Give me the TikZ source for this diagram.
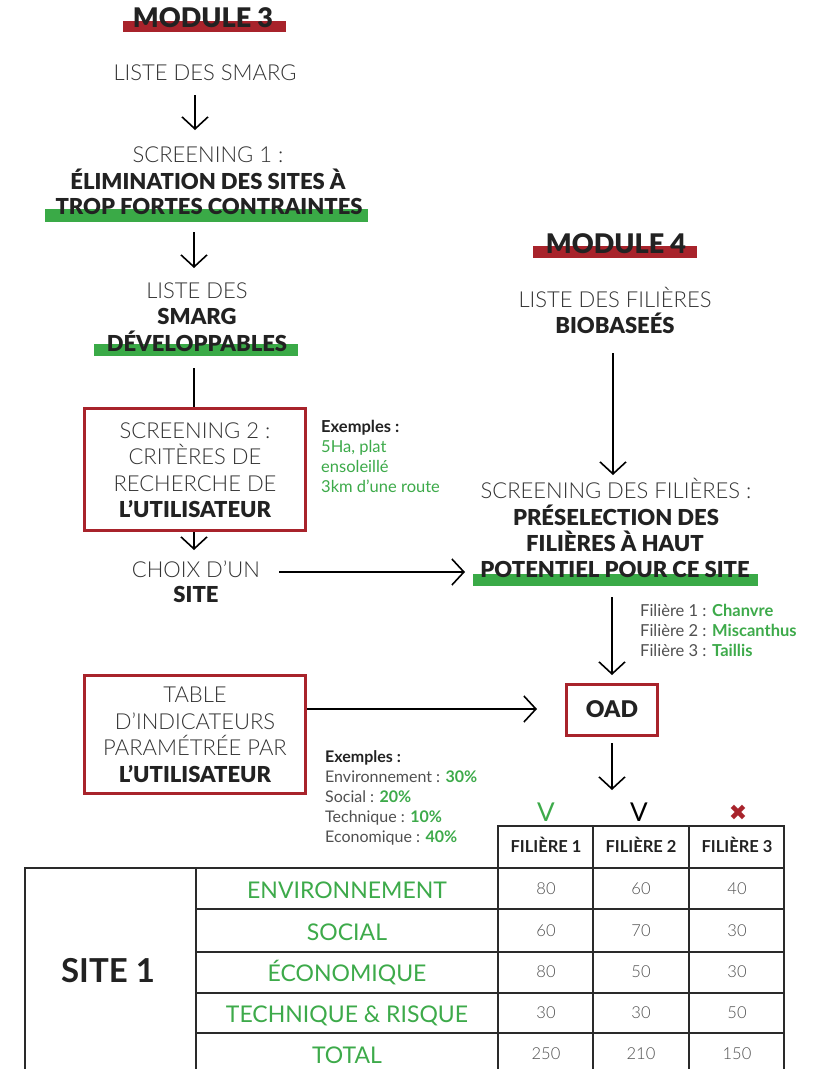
\documentclass[tikz,border=0pt]{standalone}
\usepackage{fontspec}
\setmainfont{Lato}
\IfFontExistsTF{Lato Light}{\newfontfamily\lightf{Lato Light}}{\newfontfamily\lightf{Lato}}
\IfFontExistsTF{Lato Black}{\newfontfamily\blackf{Lato Black}}{\let\blackf\bfseries}
\newfontfamily\symf{DejaVu Sans}
\usetikzlibrary{arrows.meta,calc}
\definecolor{txtg}{HTML}{333333}
\definecolor{txtb}{HTML}{222222}
\definecolor{txtl}{HTML}{505050}
\definecolor{grn}{HTML}{3DAA4A}
\definecolor{grnbar}{HTML}{3AAA47}
\definecolor{rd}{HTML}{A8232B}
\definecolor{tline}{HTML}{2A2A2A}
\newcommand\fsz[1]{\fontsize{#1}{#1}\selectfont}
\tikzset{
  lt/.style={font=\lightf\fsz{22}, text=txtg, inner sep=0, text height=15.8pt, text depth=0pt},
  bd/.style={font=\blackf\fsz{22}, text=txtb, inner sep=0, text height=15.8pt, text depth=0pt},
  modl/.style={font=\blackf\fsz{27}, text=txtb, inner sep=0, text height=19.3pt, text depth=0pt},
  exl/.style={font=\fsz{16.5}, anchor=west, inner sep=0, text height=11.8pt, text depth=0pt},
  exw/.style={font=\fsz{16}, anchor=west, inner sep=0, text height=11.5pt, text depth=0pt},
  redbox/.style={draw=rd, line width=3pt, fill=none, inner sep=0},
  arr/.style={draw=black, line width=1.6pt, -{Straight Barb[length=12pt,width=26pt,line width=1.6pt]}},
  plainline/.style={draw=black, line width=1.6pt},
  tab/.style={draw=tline, line width=1.6pt},
  lab/.style={font=\fsz{23}, text=grn, inner sep=0, text height=16.5pt, text depth=0pt},
  num/.style={font=\lightf\fsz{16.5}, text=txtl, inner sep=0, text height=11.8pt, text depth=0pt},
  hdr/.style={font=\bfseries\fsz{16.5}, text=txtb, inner sep=0, text height=11.8pt, text depth=0pt},
}
\begin{document}
\begin{tikzpicture}[x=1pt,y=-1pt]
\useasboundingbox (0,0) rectangle (826,1069);
\fill[white] (0,0) rectangle (826,1069);
% highlight bars
\fill[rd] (123,21) rectangle (286,32);
\fill[rd] (533,246) rectangle (697,258);
\fill[grnbar] (45,209) rectangle (368,222);
\fill[grnbar] (94,344) rectangle (298,356);
\fill[grnbar] (473,574) rectangle (758,586);
% module 3 column
\node[modl] (mod3) at (203,18) {MODULE 3};
\node[lt] (liste) at (205,73) {LISTE DES SMARG};
\node[lt] (scr1a) at (208,155) {SCREENING 1 :};
\node[bd] (scr1b) at (208,182) {ÉLIMINATION DES SITES À};
\node[bd] (scr1c) at (209,207) {TROP FORTES CONTRAINTES};
\node[lt] (dev1) at (197,291) {LISTE DES};
\node[bd] (dev2) at (197,317) {SMARG};
\node[bd] (dev3) at (197,343.5) {DÉVELOPPABLES};
\node[redbox, minimum width=221pt, minimum height=122pt] (box1) at (195,469.5) {};
\node[lt] (b1a) at (195,431) {SCREENING 2 :};
\node[lt] (b1b) at (195,457) {CRITÈRES DE};
\node[lt] (b1c) at (195,484) {RECHERCHE DE};
\node[bd] (b1d) at (195,510) {L’UTILISATEUR};
\node[exl, font=\bfseries\fsz{16.5}, text=txtb] (ex1a) at (321,427) {Exemples :};
\node[exl, text=grn] (ex1b) at (321,447) {5Ha, plat};
\node[exl, text=grn] (ex1c) at (321,467) {ensoleillé};
\node[exl, text=grn] (ex1d) at (321,487) {3km d’une route};
\node[lt] (ch1) at (196,570) {CHOIX D’UN};
\node[bd] (ch2) at (196,595) {SITE};
% module 4 column
\node[modl] (mod4) at (616,243.5) {MODULE 4};
\node[lt] (fil1) at (615,300) {LISTE DES FILIÈRES};
\node[bd] (fil2) at (615,326) {BIOBASEÉS};
\node[lt] (sf1) at (616,491) {SCREENING DES FILIÈRES :};
\node[bd] (sf2) at (616,518) {PRÉSELECTION DES};
\node[bd] (sf3) at (615,544) {FILIÈRES À HAUT};
\node[bd] (sf4) at (615,570) {POTENTIEL POUR CE SITE};
\node[exl, text=txtl] (f1) at (640,611) {Filière 1 : \textcolor{grn}{\bfseries Chanvre}};
\node[exl, text=txtl] (f2) at (640,631) {Filière 2 : \textcolor{grn}{\bfseries Miscanthus}};
\node[exl, text=txtl] (f3) at (640,651) {Filière 3 : \textcolor{grn}{\bfseries Taillis}};
\node[redbox, minimum width=91pt, minimum height=51pt] (oad) at (612,710) {};
\node[font=\blackf\fsz{23}, text=txtb, inner sep=0, text height=16.5pt, text depth=0pt] (oadt) at (612,709) {OAD};
% table box
\node[redbox, minimum width=221pt, minimum height=118pt] (box2) at (195,734.5) {};
\node[lt] (b2a) at (195,695) {TABLE};
\node[lt] (b2b) at (195,722) {D’INDICATEURS};
\node[lt] (b2c) at (195,748) {PARAMÉTRÉE PAR};
\node[bd] (b2d) at (195,775) {L’UTILISATEUR};
\node[exw, font=\bfseries\fsz{16}, text=txtb] (ex2a) at (325,757) {Exemples :};
\node[exw, text=txtl] (ex2b) at (325,777) {Environnement : \textcolor{grn}{\bfseries 30\%}};
\node[exw, text=txtl] (ex2c) at (325,797) {Social : \textcolor{grn}{\bfseries 20\%}};
\node[exw, text=txtl] (ex2d) at (325,817) {Technique : \textcolor{grn}{\bfseries 10\%}};
\node[exw, text=txtl] (ex2e) at (325,837) {Economique : \textcolor{grn}{\bfseries 40\%}};
\coordinate (oadout) at (612,790);
% connectors
\draw[arr] ($(liste)+(-10,22)$) -- ($(scr1a)+(-13,-25)$);
\draw[arr] ($(scr1c)+(-15,25)$) -- ($(dev1)+(-3,-23)$);
\draw[plainline] ($(dev3)+(-3,24.5)$) -- ($(box1.north)+(-1,0)$);
\draw[arr] ($(box1.south)+(-1,0)$) -- ($(ch1)+(-2,-20)$);
\draw[arr] ($(ch1)+(83,2)$) -- ($(sf4)+(-150,2)$);
\draw[arr] ($(fil2)+(-2,27)$) -- ($(sf1)+(-3,-16)$);
\draw[arr] ($(sf4)+(-3,27)$) -- ($(oad.north)+(0,-8)$);
\draw[arr] ($(box2.east)+(0,-25.5)$) -- ($(oad.west)+(-28,-1)$);
\draw[arr] ($(oad.south)+(0,6)$) -- (oadout);
% verdict marks
\node[font=\fsz{26}, text=grn, inner sep=0, text height=18.6pt, text depth=0pt] (v1) at (546,812) {V};
\node[font=\fsz{26}, text=black, inner sep=0, text height=18.6pt, text depth=0pt] (v2) at (639,812) {V};
\node[font=\symf\fsz{22}, text=rd, inner sep=0] (v3) at (738,813) {✖};
% table
\draw[tab] (498,826) rectangle (784,868);
\draw[tab] (593,826) -- (593,868);
\draw[tab] (689,826) -- (689,868);
\draw[tab] (25,1085) -- (25,868) -- (784,868) -- (784,1085);
\foreach \xx in {196,498,593,689} \draw[tab] (\xx,868) -- (\xx,1085);
\foreach \yy in {909,952,993,1033} \draw[tab] (196,\yy) -- (784,\yy);
\node[hdr] (h1) at (546,847) {FILIÈRE 1};
\node[hdr] (h2) at (641,847) {FILIÈRE 2};
\node[hdr] (h3) at (737,847) {FILIÈRE 3};
\node[font=\bfseries\fsz{33}, text=txtb, inner sep=0, text height=23.6pt, text depth=0pt] (site) at (108,971) {SITE 1};
\node[lab] (r1) at (347,890) {ENVIRONNEMENT};
\node[lab] (r2) at (347,932) {SOCIAL};
\node[lab] (r3) at (347,973) {ÉCONOMIQUE};
\node[lab] (r4) at (347,1014) {TECHNIQUE \& RISQUE};
\node[lab] (r5) at (347,1055) {TOTAL};
\node[num] at (546,889) {80}; \node[num] at (641,889) {60}; \node[num] at (737,889) {40};
\node[num] at (546,931) {60}; \node[num] at (641,931) {70}; \node[num] at (737,931) {30};
\node[num] at (546,972) {80}; \node[num] at (641,972) {50}; \node[num] at (737,972) {30};
\node[num] at (546,1013) {30}; \node[num] at (641,1013) {30}; \node[num] at (737,1013) {50};
\node[num] at (546,1054) {250}; \node[num] at (641,1054) {210}; \node[num] at (737,1054) {150};
\end{tikzpicture}
\end{document}
